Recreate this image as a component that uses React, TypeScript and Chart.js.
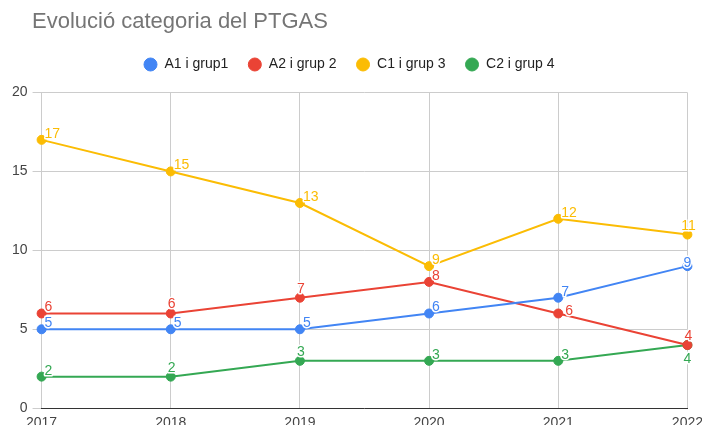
import React, { useEffect, useRef } from "react";
import { Chart, registerables } from "chart.js";

Chart.register(...registerables);

const TITLE = "Evolució categoria del PTGAS";
const YEARS = ["2017", "2018", "2019", "2020", "2021", "2022"];
const SERIES_NAMES = ["A1 i grup1", "A2 i grup 2", "C1 i grup 3", "C2 i grup 4"];
const A1 = [5, 5, 5, 6, 7, 9];
const A2 = [6, 6, 7, 8, 6, 4];
const C1 = [17, 15, 13, 9, 12, 11];
const C2 = [2, 2, 3, 3, 3, 4];
const COLORS = ["#4285F4", "#EA4335", "#FBBC04", "#34A853"];

// label placement per series/point: ra = right-above, a = above, r = right, c = on point, b = below
const PLACE = [
  ["ra", "ra", "ra", "ra", "ra", "c"],
  ["ra", "a", "a", "ra", "r", "a"],
  ["ra", "ra", "ra", "ra", "ra", "a"],
  ["ra", "a", "a", "ra", "ra", "b"],
];

const FONT = "Arial, 'Liberation Sans', sans-serif";
const LEGEND_EXTRA = 11;
const LEGEND_SHIFT = -9.5;

const labelPlugin = {
  id: "pointLabels",
  afterDatasetsDraw(chart: any) {
    const ctx = chart.ctx;
    ctx.save();
    ctx.font = `14px ${FONT}`;
    ctx.textBaseline = "alphabetic";
    ctx.lineJoin = "round";
    chart.data.datasets.forEach((ds: any, di: number) => {
      const meta = chart.getDatasetMeta(di);
      meta.data.forEach((pt: any, i: number) => {
        const v = String(ds.data[i]);
        const p = PLACE[di][i];
        let x = pt.x, y = pt.y;
        if (p === "ra") { ctx.textAlign = "left"; x += 3; y -= 2; }
        else if (p === "a") { ctx.textAlign = "center"; x += 1; y -= 5; }
        else if (p === "r") { ctx.textAlign = "left"; x += 7; y += 2; }
        else if (p === "c") { ctx.textAlign = "center"; y += 1; }
        else if (p === "b") { ctx.textAlign = "center"; y += 18; }
        ctx.strokeStyle = "#ffffff";
        ctx.lineWidth = 3;
        ctx.strokeText(v, x, y);
        ctx.fillStyle = ds.borderColor;
        ctx.fillText(v, x, y);
      });
    });
    ctx.restore();
  },
};

const titlePlugin = {
  id: "customTitle",
  beforeInit(chart: any) {
    const legend = chart.legend;
    if (legend) {
      const origFit = legend.fit;
      legend.fit = function () {
        origFit.call(this);
        this.height += LEGEND_EXTRA;
      };
      const origDraw = legend.draw;
      legend.draw = function (...args: any[]) {
        this.left += LEGEND_SHIFT;
        this.right += LEGEND_SHIFT;
        origDraw.apply(this, args);
        this.left -= LEGEND_SHIFT;
        this.right -= LEGEND_SHIFT;
      };
    }
  },
  afterDraw(chart: any) {
    const ctx = chart.ctx;
    ctx.save();
    ctx.font = `22px ${FONT}`;
    ctx.fillStyle = "#757575";
    ctx.textAlign = "left";
    ctx.textBaseline = "alphabetic";
    ctx.fillText(TITLE, 32, 28);
    ctx.restore();
  },
};

export default function App() {
  const ref = useRef<HTMLCanvasElement>(null);
  useEffect(() => {
    const seriesData = [A1, A2, C1, C2];
    const chart = new Chart(ref.current as HTMLCanvasElement, {
      type: "line",
      data: {
        labels: YEARS,
        datasets: SERIES_NAMES.map((name, i) => ({
          label: name,
          data: seriesData[i],
          borderColor: COLORS[i],
          backgroundColor: COLORS[i],
          pointBackgroundColor: COLORS[i],
          pointBorderColor: COLORS[i],
          borderWidth: 2,
          pointRadius: 4.5,
          pointBorderWidth: 1,
          tension: 0,
        })),
      },
      options: {
        animation: false,
        responsive: false,
        maintainAspectRatio: false,
        layout: { padding: { top: 38, left: 7, right: 0, bottom: 0 } },
        plugins: {
          title: { display: false },
          tooltip: { enabled: false },
          legend: {
            position: "top",
            align: "center",
            labels: {
              usePointStyle: true,
              pointStyle: "circle",
              boxWidth: 14,
              boxHeight: 9.2,
              padding: 19.5,
              color: "#222222",
              font: { family: FONT, size: 14 },
            },
          },
        },
        scales: {
          x: {
            offset: false,
            grid: { color: "#cccccc", drawTicks: false, lineWidth: 1 },
            border: { color: "#333333", width: 1 },
            ticks: { color: "#444444", font: { family: FONT, size: 14 }, padding: 7, maxRotation: 0 },
          },
          y: {
            min: 0,
            max: 20,
            grid: { color: "#cccccc", drawTicks: true, tickLength: 9 },
            border: { display: false },
            ticks: { stepSize: 5, color: "#444444", font: { family: FONT, size: 14 }, padding: 5 },
          },
        },
      },
      plugins: [labelPlugin, titlePlugin],
    });
    return () => chart.destroy();
  }, []);
  return (
    <div style={{ position: "fixed", left: 0, top: 0, width: 702, height: 425, overflow: "hidden", background: "#fff" }}>
      <canvas ref={ref} width={710} height={439} style={{ display: "block" }} />
    </div>
  );
}
